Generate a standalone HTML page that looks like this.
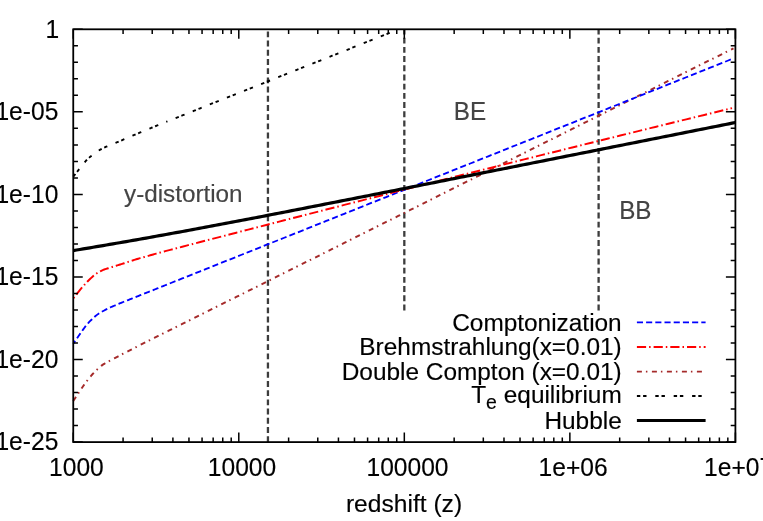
<!DOCTYPE html>
<html><head><meta charset="utf-8"><title>chart</title>
<style>html,body{margin:0;padding:0;background:#fff;overflow:hidden}svg{display:block;will-change:transform}</style></head>
<body>
<svg width="763" height="521" viewBox="0 0 763 521">
<rect width="763" height="521" fill="#fff"/>
<path d="M267.94,442.10 V29.30" stroke="#3c3c3c" stroke-width="2.3" stroke-dasharray="5.9 3.3" fill="none"/>
<path d="M404.32,310.40 V29.30" stroke="#3c3c3c" stroke-width="2.3" stroke-dasharray="5.9 3.3" fill="none"/>
<path d="M598.61,310.40 V29.30" stroke="#3c3c3c" stroke-width="2.3" stroke-dasharray="5.9 3.3" fill="none"/>
<path d="M73.25,401.06 L74.25,399.53 L75.25,398.01 L76.25,396.48 L77.25,394.95 L78.25,393.43 L79.25,391.91 L80.25,390.40 L81.25,388.91 L82.25,387.46 L83.25,386.04 L84.25,384.64 L85.25,383.27 L86.25,381.92 L87.25,380.60 L88.25,379.32 L89.25,378.07 L90.25,376.86 L91.25,375.67 L92.25,374.51 L93.25,373.40 L94.25,372.33 L95.25,371.31 L96.25,370.34 L97.25,369.40 L98.25,368.47 L99.25,367.56 L100.25,366.68 L101.25,365.85 L102.25,365.10 L103.25,364.42 L104.25,363.80 L105.25,363.22 L106.25,362.66 L107.25,362.11 L108.25,361.56 L109.25,361.01 L110.25,360.47 L111.25,359.93 L112.25,359.39 L113.25,358.87 L114.25,358.34 L115.25,357.83 L116.25,357.31 L117.25,356.79 L118.25,356.28 L119.25,355.76 L120.25,355.25 L121.25,354.73 L122.25,354.22 L123.25,353.70 L124.25,353.19 L125.25,352.67 L126.25,352.16 L127.25,351.65 L128.25,351.13 L129.25,350.62 L130.25,350.11 L131.25,349.59 L132.25,349.08 L133.25,348.56 L134.25,348.05 L135.25,347.54 L136.25,347.03 L137.25,346.51 L138.25,346.00 L139.25,345.49 L140.25,344.98 L141.25,344.48 L142.25,343.98 L143.25,343.48 L144.25,342.98 L145.25,342.48 L146.25,341.98 L147.25,341.48 L148.25,340.98 L149.25,340.48 L150.25,339.98 L151.25,339.48 L152.25,338.98 L153.25,338.48 L154.25,337.98 L155.25,337.48 L156.25,336.98 L157.25,336.48 L158.25,335.98 L159.25,335.48 L160.25,334.98 L161.25,334.48 L162.25,333.98 L163.25,333.48 L164.25,332.98 L165.25,332.48 L166.25,331.98 L167.25,331.48 L168.25,330.98 L169.25,330.48 L170.25,329.98 L176.25,326.98 L182.25,323.98 L188.25,320.98 L194.25,317.98 L200.25,314.98 L206.25,311.98 L212.25,308.98 L218.25,305.98 L224.25,302.98 L230.25,299.98 L236.25,296.98 L242.25,293.98 L248.25,290.98 L254.25,287.98 L260.25,284.98 L266.25,281.98 L272.25,278.98 L278.25,275.98 L284.25,272.98 L290.25,269.98 L296.25,266.98 L302.25,263.98 L308.25,260.98 L314.25,257.98 L320.25,254.97 L326.25,251.97 L332.25,248.97 L338.25,245.97 L344.25,242.97 L350.25,239.97 L356.25,236.97 L362.25,233.97 L368.25,230.97 L374.25,227.97 L380.25,224.97 L386.25,221.97 L392.25,218.97 L398.25,215.97 L404.25,212.97 L410.25,209.97 L416.25,206.97 L422.25,203.97 L428.25,200.97 L434.25,197.97 L440.25,194.97 L446.25,191.97 L452.25,188.97 L458.25,185.97 L464.25,182.97 L470.25,179.97 L476.25,176.97 L482.25,173.97 L488.25,170.97 L494.25,167.97 L500.25,164.97 L506.25,161.97 L512.25,158.97 L518.25,155.97 L524.25,152.97 L530.25,149.97 L536.25,146.97 L542.25,143.97 L548.25,140.97 L554.25,137.97 L560.25,134.97 L566.25,131.97 L572.25,128.97 L578.25,125.97 L584.25,122.97 L590.25,119.97 L596.25,116.97 L602.25,113.97 L608.25,110.97 L614.25,107.97 L620.25,104.97 L626.25,101.97 L632.25,98.97 L638.25,95.97 L644.25,92.97 L650.25,89.97 L656.25,86.97 L662.25,83.97 L668.25,80.97 L674.25,77.97 L680.25,74.97 L686.25,71.97 L692.25,68.97 L698.25,65.97 L704.25,62.97 L710.25,59.97 L716.25,56.97 L722.25,53.97 L728.25,50.97 L733.50,48.35" stroke="#a52a2a" stroke-width="1.95" stroke-dasharray="5 4 1.5 4.5" fill="none"/>
<path d="M73.25,343.67 L74.25,342.23 L75.25,340.79 L76.25,339.35 L77.25,337.91 L78.25,336.47 L79.25,335.03 L80.25,333.60 L81.25,332.18 L82.25,330.77 L83.25,329.37 L84.25,328.00 L85.25,326.66 L86.25,325.37 L87.25,324.16 L88.25,323.03 L89.25,321.97 L90.25,320.96 L91.25,319.98 L92.25,319.03 L93.25,318.09 L94.25,317.16 L95.25,316.27 L96.25,315.41 L97.25,314.62 L98.25,313.90 L99.25,313.25 L100.25,312.65 L101.25,312.09 L102.25,311.55 L103.25,311.00 L104.25,310.46 L105.25,309.92 L106.25,309.39 L107.25,308.88 L108.25,308.38 L109.25,307.91 L110.25,307.46 L111.25,307.02 L112.25,306.59 L113.25,306.16 L114.25,305.73 L115.25,305.31 L116.25,304.88 L117.25,304.46 L118.25,304.04 L119.25,303.63 L120.25,303.22 L121.25,302.81 L122.25,302.41 L123.25,302.01 L124.25,301.61 L125.25,301.21 L126.25,300.82 L127.25,300.42 L128.25,300.02 L129.25,299.62 L130.25,299.22 L131.25,298.82 L132.25,298.42 L133.25,298.02 L134.25,297.62 L135.25,297.22 L136.25,296.82 L137.25,296.42 L138.25,296.02 L139.25,295.63 L140.25,295.23 L141.25,294.83 L142.25,294.43 L143.25,294.03 L144.25,293.63 L145.25,293.23 L146.25,292.83 L147.25,292.43 L148.25,292.03 L149.25,291.63 L150.25,291.23 L151.25,290.84 L152.25,290.44 L153.25,290.04 L154.25,289.64 L155.25,289.24 L156.25,288.84 L157.25,288.44 L158.25,288.04 L159.25,287.64 L160.25,287.24 L161.25,286.84 L162.25,286.44 L163.25,286.04 L164.25,285.65 L165.25,285.25 L166.25,284.85 L167.25,284.45 L168.25,284.05 L169.25,283.65 L170.25,283.25 L176.25,280.86 L182.25,278.46 L188.25,276.06 L194.25,273.67 L200.25,271.27 L206.25,268.88 L212.25,266.48 L218.25,264.09 L224.25,261.69 L230.25,259.30 L236.25,256.90 L242.25,254.51 L248.25,252.11 L254.25,249.72 L260.25,247.32 L266.25,244.93 L272.25,242.53 L278.25,240.14 L284.25,237.74 L290.25,235.35 L296.25,232.95 L302.25,230.56 L308.25,228.16 L314.25,225.77 L320.25,223.37 L326.25,220.98 L332.25,218.58 L338.25,216.19 L344.25,213.79 L350.25,211.39 L356.25,209.00 L362.25,206.60 L368.25,204.21 L374.25,201.81 L380.25,199.42 L386.25,197.02 L392.25,194.63 L398.25,192.23 L404.25,189.84 L410.25,187.44 L416.25,185.05 L422.25,182.65 L428.25,180.26 L434.25,177.86 L440.25,175.47 L446.25,173.07 L452.25,170.68 L458.25,168.28 L464.25,165.89 L470.25,163.49 L476.25,161.10 L482.25,158.70 L488.25,156.31 L494.25,153.91 L500.25,151.51 L506.25,149.12 L512.25,146.72 L518.25,144.33 L524.25,141.93 L530.25,139.54 L536.25,137.14 L542.25,134.75 L548.25,132.35 L554.25,129.96 L560.25,127.56 L566.25,125.17 L572.25,122.77 L578.25,120.38 L584.25,117.98 L590.25,115.59 L596.25,113.19 L602.25,110.80 L608.25,108.40 L614.25,106.01 L620.25,103.61 L626.25,101.22 L632.25,98.82 L638.25,96.42 L644.25,94.03 L650.25,91.63 L656.25,89.24 L662.25,86.84 L668.25,84.45 L674.25,82.05 L680.25,79.66 L686.25,77.26 L692.25,74.87 L698.25,72.47 L704.25,70.08 L710.25,67.68 L716.25,65.29 L722.25,62.89 L728.25,60.50 L732.00,59.00" stroke="#0000ff" stroke-width="1.85" stroke-dasharray="6.1 3.1" stroke-dashoffset="2.7" fill="none"/>
<path d="M73.25,298.38 L74.25,297.13 L75.25,295.88 L76.25,294.63 L77.25,293.38 L78.25,292.13 L79.25,290.88 L80.25,289.65 L81.25,288.45 L82.25,287.27 L83.25,286.12 L84.25,284.99 L85.25,283.89 L86.25,282.81 L87.25,281.77 L88.25,280.75 L89.25,279.77 L90.25,278.80 L91.25,277.85 L92.25,276.93 L93.25,276.05 L94.25,275.22 L95.25,274.44 L96.25,273.72 L97.25,273.04 L98.25,272.41 L99.25,271.83 L100.25,271.29 L101.25,270.79 L102.25,270.33 L103.25,269.91 L104.25,269.53 L105.25,269.19 L106.25,268.86 L107.25,268.54 L108.25,268.22 L109.25,267.90 L110.25,267.59 L111.25,267.27 L112.25,266.96 L113.25,266.65 L114.25,266.34 L115.25,266.03 L116.25,265.72 L117.25,265.42 L118.25,265.11 L119.25,264.80 L120.25,264.49 L121.25,264.17 L122.25,263.85 L123.25,263.52 L124.25,263.20 L125.25,262.87 L126.25,262.54 L127.25,262.21 L128.25,261.88 L129.25,261.55 L130.25,261.22 L131.25,260.89 L132.25,260.56 L133.25,260.24 L134.25,259.91 L135.25,259.60 L136.25,259.29 L137.25,258.99 L138.25,258.70 L139.25,258.41 L140.25,258.13 L141.25,257.85 L142.25,257.56 L143.25,257.28 L144.25,257.00 L145.25,256.71 L146.25,256.43 L147.25,256.15 L148.25,255.87 L149.25,255.58 L150.25,255.30 L151.25,255.02 L152.25,254.74 L153.25,254.45 L154.25,254.17 L155.25,253.89 L156.25,253.61 L157.25,253.32 L158.25,253.05 L159.25,252.77 L160.25,252.50 L161.25,252.23 L162.25,251.96 L163.25,251.70 L164.25,251.44 L165.25,251.18 L166.25,250.91 L167.25,250.65 L168.25,250.39 L169.25,250.13 L170.25,249.87 L176.25,248.30 L182.25,246.74 L188.25,245.18 L194.25,243.61 L200.25,242.05 L206.25,240.49 L212.25,238.93 L218.25,237.37 L224.25,235.82 L230.25,234.26 L236.25,232.71 L242.25,231.15 L248.25,229.60 L254.25,228.05 L260.25,226.50 L266.25,224.95 L272.25,223.40 L278.25,221.86 L284.25,220.31 L290.25,218.77 L296.25,217.22 L302.25,215.68 L308.25,214.14 L314.25,212.60 L320.25,211.06 L326.25,209.52 L332.25,207.99 L338.25,206.45 L344.25,204.92 L350.25,203.38 L356.25,201.85 L362.25,200.32 L368.25,198.79 L374.25,197.26 L380.25,195.74 L386.25,194.21 L392.25,192.68 L398.25,191.16 L404.25,189.64 L410.25,188.12 L416.25,186.59 L422.25,185.08 L428.25,183.56 L434.25,182.04 L440.25,180.52 L446.25,179.01 L452.25,177.49 L458.25,175.98 L464.25,174.47 L470.25,172.96 L476.25,171.45 L482.25,169.94 L488.25,168.43 L494.25,166.93 L500.25,165.42 L506.25,163.92 L512.25,162.42 L518.25,160.91 L524.25,159.41 L530.25,157.92 L536.25,156.42 L542.25,154.92 L548.25,153.42 L554.25,151.93 L560.25,150.44 L566.25,148.94 L572.25,147.45 L578.25,145.96 L584.25,144.47 L590.25,142.98 L596.25,141.50 L602.25,140.01 L608.25,138.53 L614.25,137.04 L620.25,135.56 L626.25,134.08 L632.25,132.60 L638.25,131.12 L644.25,129.64 L650.25,128.17 L656.25,126.69 L662.25,125.22 L668.25,123.74 L674.25,122.27 L680.25,120.80 L686.25,119.33 L692.25,117.86 L698.25,116.39 L704.25,114.93 L710.25,113.46 L716.25,112.00 L722.25,110.53 L728.25,109.07 L732.00,108.16" stroke="#ff0000" stroke-width="1.95" stroke-dasharray="9.2 3 1.5 3" stroke-dashoffset="-4.9" fill="none"/>
<path d="M73.25,176.69 L74.25,175.43 L75.25,174.16 L76.25,172.89 L77.25,171.63 L78.25,170.36 L79.25,169.09 L80.25,167.83 L81.25,166.56 L82.25,165.30 L83.25,164.03 L84.25,162.80 L85.25,161.60 L86.25,160.47 L87.25,159.43 L88.25,158.48 L89.25,157.60 L90.25,156.77 L91.25,155.98 L92.25,155.21 L93.25,154.46 L94.25,153.73 L95.25,153.01 L96.25,152.29 L97.25,151.59 L98.25,150.90 L99.25,150.23 L100.25,149.62 L101.25,149.05 L102.25,148.54 L103.25,148.07 L104.25,147.62 L105.25,147.18 L106.25,146.74 L107.25,146.31 L108.25,145.89 L109.25,145.48 L110.25,145.06 L111.25,144.65 L112.25,144.25 L113.25,143.84 L114.25,143.43 L115.25,143.02 L116.25,142.61 L117.25,142.20 L118.25,141.78 L119.25,141.36 L120.25,140.94 L121.25,140.51 L122.25,140.08 L123.25,139.66 L124.25,139.23 L125.25,138.80 L126.25,138.37 L127.25,137.95 L128.25,137.52 L129.25,137.09 L130.25,136.67 L131.25,136.24 L132.25,135.81 L133.25,135.39 L134.25,134.96 L135.25,134.54 L136.25,134.12 L137.25,133.71 L138.25,133.29 L139.25,132.88 L140.25,132.46 L141.25,132.05 L142.25,131.64 L143.25,131.22 L144.25,130.81 L145.25,130.39 L146.25,129.98 L147.25,129.57 L148.25,129.15 L149.25,128.74 L150.25,128.32 L151.25,127.91 L152.25,127.50 L153.25,127.08 L154.25,126.67 L155.25,126.25 L156.25,125.84 L157.25,125.43 L158.25,125.02 L159.25,124.61 L160.25,124.20 L161.25,123.79 L162.25,123.39 L163.25,122.99 L164.25,122.60 L165.25,122.20" stroke="#000" stroke-width="1.9" stroke-dasharray="3.4 2.8 3.4 8.8" fill="none"/>
<path d="M166.25,121.80 L167.25,121.40 L168.25,121.00 L169.25,120.61 L170.25,120.21 L176.25,117.82 L182.25,115.43 L188.25,113.04 L194.25,110.66 L200.25,108.27 L206.25,105.88 L212.25,103.49 L218.25,101.10 L224.25,98.72 L230.25,96.33 L236.25,93.94 L242.25,91.55 L248.25,89.16 L254.25,86.78 L260.25,84.39 L266.25,82.00 L272.25,79.61 L278.25,77.22 L284.25,74.84 L290.25,72.45 L296.25,70.06 L302.25,67.67 L308.25,65.28 L314.25,62.90 L320.25,60.51 L326.25,58.12 L332.25,55.73 L338.25,53.34 L344.25,50.96 L350.25,48.57 L356.25,46.18 L362.25,43.79 L368.25,41.40 L374.25,39.02 L380.25,36.63 L386.25,34.24 L392.25,31.85" stroke="#000" stroke-width="1.9" stroke-dasharray="3.4 2.8 3.4 8.8" stroke-dashoffset="8.31" fill="none"/>
<path d="M73.25,250.56 L76.56,250.02 L79.87,249.46 L83.18,248.91 L86.49,248.36 L89.80,247.80 L93.11,247.24 L96.43,246.68 L99.74,246.12 L103.05,245.56 L106.36,244.99 L109.67,244.42 L112.98,243.85 L116.29,243.28 L119.60,242.71 L122.91,242.13 L126.22,241.56 L129.53,240.98 L132.84,240.40 L136.15,239.82 L139.46,239.23 L142.78,238.64 L146.09,238.06 L149.40,237.47 L152.71,236.87 L156.02,236.28 L159.33,235.68 L162.64,235.09 L165.95,234.49 L169.26,233.89 L172.57,233.28 L175.88,232.68 L179.19,232.07 L182.50,231.46 L185.82,230.85 L189.13,230.24 L192.44,229.63 L195.75,229.02 L199.06,228.40 L202.37,227.78 L205.68,227.16 L208.99,226.54 L212.30,225.92 L215.61,225.30 L218.92,224.67 L222.23,224.05 L225.54,223.42 L228.86,222.79 L232.17,222.17 L235.48,221.53 L238.79,220.90 L242.10,220.27 L245.41,219.64 L248.72,219.00 L252.03,218.37 L255.34,217.73 L258.65,217.09 L261.96,216.45 L265.27,215.82 L268.58,215.17 L271.89,214.53 L275.21,213.89 L278.52,213.25 L281.83,212.61 L285.14,211.96 L288.45,211.32 L291.76,210.67 L295.07,210.03 L298.38,209.38 L301.69,208.73 L305.00,208.09 L308.31,207.44 L311.62,206.79 L314.93,206.14 L318.25,205.49 L321.56,204.84 L324.87,204.19 L328.18,203.54 L331.49,202.89 L334.80,202.24 L338.11,201.58 L341.42,200.93 L344.73,200.28 L348.04,199.63 L351.35,198.97 L354.66,198.32 L357.97,197.66 L361.29,197.01 L364.60,196.36 L367.91,195.70 L371.22,195.05 L374.53,194.39 L377.84,193.73 L381.15,193.08 L384.46,192.42 L387.77,191.77 L391.08,191.11 L394.39,190.45 L397.70,189.80 L401.01,189.14 L404.32,188.48 L407.64,187.83 L410.95,187.17 L414.26,186.51 L417.57,185.85 L420.88,185.20 L424.19,184.54 L427.50,183.88 L430.81,183.22 L434.12,182.56 L437.43,181.91 L440.74,181.25 L444.05,180.59 L447.36,179.93 L450.68,179.27 L453.99,178.61 L457.30,177.95 L460.61,177.29 L463.92,176.64 L467.23,175.98 L470.54,175.32 L473.85,174.66 L477.16,174.00 L480.47,173.34 L483.78,172.68 L487.09,172.02 L490.40,171.36 L493.72,170.70 L497.03,170.04 L500.34,169.38 L503.65,168.72 L506.96,168.06 L510.27,167.40 L513.58,166.74 L516.89,166.09 L520.20,165.43 L523.51,164.77 L526.82,164.11 L530.13,163.45 L533.44,162.79 L536.75,162.13 L540.07,161.47 L543.38,160.81 L546.69,160.15 L550.00,159.49 L553.31,158.83 L556.62,158.17 L559.93,157.51 L563.24,156.85 L566.55,156.19 L569.86,155.53 L573.17,154.87 L576.48,154.21 L579.79,153.55 L583.11,152.88 L586.42,152.22 L589.73,151.56 L593.04,150.90 L596.35,150.24 L599.66,149.58 L602.97,148.92 L606.28,148.26 L609.59,147.60 L612.90,146.94 L616.21,146.28 L619.52,145.62 L622.83,144.96 L626.15,144.30 L629.46,143.64 L632.77,142.98 L636.08,142.32 L639.39,141.66 L642.70,141.00 L646.01,140.34 L649.32,139.68 L652.63,139.02 L655.94,138.36 L659.25,137.70 L662.56,137.04 L665.87,136.38 L669.18,135.72 L672.50,135.06 L675.81,134.40 L679.12,133.74 L682.43,133.08 L685.74,132.41 L689.05,131.75 L692.36,131.09 L695.67,130.43 L698.98,129.77 L702.29,129.11 L705.60,128.45 L708.91,127.79 L712.22,127.13 L715.54,126.47 L718.85,125.81 L722.16,125.15 L725.47,124.49 L728.78,123.83 L732.09,123.17 L735.40,122.51" stroke="#000" stroke-width="3.2" fill="none"/>
<path d="M73.25,442.10 v-9.50 M73.25,29.30 v9.50 M123.08,442.10 v-4.70 M123.08,29.30 v4.70 M152.23,442.10 v-4.70 M152.23,29.30 v4.70 M172.91,442.10 v-4.70 M172.91,29.30 v4.70 M188.96,442.10 v-4.70 M188.96,29.30 v4.70 M202.06,442.10 v-4.70 M202.06,29.30 v4.70 M213.15,442.10 v-4.70 M213.15,29.30 v4.70 M222.75,442.10 v-4.70 M222.75,29.30 v4.70 M231.21,442.10 v-4.70 M231.21,29.30 v4.70 M238.79,442.10 v-9.50 M238.79,29.30 v9.50 M288.62,442.10 v-4.70 M288.62,29.30 v4.70 M317.77,442.10 v-4.70 M317.77,29.30 v4.70 M338.45,442.10 v-4.70 M338.45,29.30 v4.70 M354.49,442.10 v-4.70 M354.49,29.30 v4.70 M367.60,442.10 v-4.70 M367.60,29.30 v4.70 M378.68,442.10 v-4.70 M378.68,29.30 v4.70 M388.28,442.10 v-4.70 M388.28,29.30 v4.70 M396.75,442.10 v-4.70 M396.75,29.30 v4.70 M404.32,442.10 v-9.50 M404.32,29.30 v9.50 M454.16,442.10 v-4.70 M454.16,29.30 v4.70 M483.31,442.10 v-4.70 M483.31,29.30 v4.70 M503.99,442.10 v-4.70 M503.99,29.30 v4.70 M520.03,442.10 v-4.70 M520.03,29.30 v4.70 M533.14,442.10 v-4.70 M533.14,29.30 v4.70 M544.22,442.10 v-4.70 M544.22,29.30 v4.70 M553.82,442.10 v-4.70 M553.82,29.30 v4.70 M562.29,442.10 v-4.70 M562.29,29.30 v4.70 M569.86,442.10 v-9.50 M569.86,29.30 v9.50 M619.69,442.10 v-4.70 M619.69,29.30 v4.70 M648.84,442.10 v-4.70 M648.84,29.30 v4.70 M669.53,442.10 v-4.70 M669.53,29.30 v4.70 M685.57,442.10 v-4.70 M685.57,29.30 v4.70 M698.68,442.10 v-4.70 M698.68,29.30 v4.70 M709.76,442.10 v-4.70 M709.76,29.30 v4.70 M719.36,442.10 v-4.70 M719.36,29.30 v4.70 M727.83,442.10 v-4.70 M727.83,29.30 v4.70 M735.40,442.10 v-9.50 M735.40,29.30 v9.50 M73.25,29.30 h9.50 M735.40,29.30 h-9.50 M73.25,45.81 h4.70 M735.40,45.81 h-4.70 M73.25,62.32 h4.70 M735.40,62.32 h-4.70 M73.25,78.84 h4.70 M735.40,78.84 h-4.70 M73.25,95.35 h4.70 M735.40,95.35 h-4.70 M73.25,111.86 h9.50 M735.40,111.86 h-9.50 M73.25,128.37 h4.70 M735.40,128.37 h-4.70 M73.25,144.88 h4.70 M735.40,144.88 h-4.70 M73.25,161.40 h4.70 M735.40,161.40 h-4.70 M73.25,177.91 h4.70 M735.40,177.91 h-4.70 M73.25,194.42 h9.50 M735.40,194.42 h-9.50 M73.25,210.93 h4.70 M735.40,210.93 h-4.70 M73.25,227.44 h4.70 M735.40,227.44 h-4.70 M73.25,243.96 h4.70 M735.40,243.96 h-4.70 M73.25,260.47 h4.70 M735.40,260.47 h-4.70 M73.25,276.98 h9.50 M735.40,276.98 h-9.50 M73.25,293.49 h4.70 M735.40,293.49 h-4.70 M73.25,310.00 h4.70 M735.40,310.00 h-4.70 M73.25,326.52 h4.70 M735.40,326.52 h-4.70 M73.25,343.03 h4.70 M735.40,343.03 h-4.70 M73.25,359.54 h9.50 M735.40,359.54 h-9.50 M73.25,376.05 h4.70 M735.40,376.05 h-4.70 M73.25,392.56 h4.70 M735.40,392.56 h-4.70 M73.25,409.08 h4.70 M735.40,409.08 h-4.70 M73.25,425.59 h4.70 M735.40,425.59 h-4.70 M73.25,442.10 h9.50 M735.40,442.10 h-9.50" stroke="#000" stroke-width="1.5" fill="none"/>
<rect x="73.25" y="29.30" width="662.15" height="412.80" stroke="#000" stroke-width="1.8" fill="none"/>
<path d="M636.9,322.3 H705.6" stroke="#0000ff" stroke-width="1.85" stroke-dasharray="6.1 3.1" fill="none"/>
<path d="M636.9,347.0 H705.6" stroke="#ff0000" stroke-width="2.05" stroke-dasharray="9.2 3 1.5 3" fill="none"/>
<path d="M636.9,371.6 H705.6" stroke="#a52a2a" stroke-width="1.8" stroke-dasharray="5 4 1.5 4.5" fill="none"/>
<path d="M636.9,396.0 H705.6" stroke="#000" stroke-width="1.9" stroke-dasharray="3.4 2.8 3.4 8.8" fill="none"/>
<path d="M636.9,420.5 H705.6" stroke="#000" stroke-width="3.2" fill="none"/>
<g font-family="Liberation Sans, sans-serif" font-size="24.6" fill="#000" stroke="#000" stroke-width="0.15">
<text transform="translate(59.30,37.60) scale(1,1.04)" text-anchor="end">1</text>
<text transform="translate(58.30,120.16) scale(1,1.04)" text-anchor="end">1e-05</text>
<text transform="translate(58.30,202.72) scale(1,1.04)" text-anchor="end">1e-10</text>
<text transform="translate(58.30,285.28) scale(1,1.04)" text-anchor="end">1e-15</text>
<text transform="translate(58.30,367.84) scale(1,1.04)" text-anchor="end">1e-20</text>
<text transform="translate(58.30,450.40) scale(1,1.04)" text-anchor="end">1e-25</text>
<text transform="translate(76.45,475.50) scale(1,1.04)" text-anchor="middle">1000</text>
<text transform="translate(241.99,475.50) scale(1,1.04)" text-anchor="middle">10000</text>
<text transform="translate(407.52,475.50) scale(1,1.04)" text-anchor="middle">100000</text>
<text transform="translate(573.06,475.50) scale(1,1.04)" text-anchor="middle">1e+06</text>
<text transform="translate(738.60,475.50) scale(1,1.04)" text-anchor="middle">1e+07</text>
<text transform="translate(404.00,511.60) scale(1,1)" text-anchor="middle">redshift (z)</text>
</g>
<g font-family="Liberation Sans, sans-serif" font-size="24.4" fill="#000" stroke="#000" stroke-width="0.15">
<text transform="translate(621.70,331.00) scale(1,1)" text-anchor="end">Comptonization</text>
<text transform="translate(621.70,355.10) scale(1,1)" text-anchor="end">Brehmstrahlung(x=0.01)</text>
<text transform="translate(621.70,379.70) scale(1,1)" text-anchor="end">Double Compton (x=0.01)</text>
<text transform="translate(621.70,402.90) scale(1,1)" text-anchor="end">T<tspan dy="6.1" font-size="19.5">e</tspan><tspan dy="-6.1"> equilibrium</tspan></text>
<text transform="translate(621.70,428.50) scale(1,1)" text-anchor="end">Hubble</text>
</g>
<g font-family="Liberation Sans, sans-serif" font-size="24.25" fill="#444" stroke="#444" stroke-width="0.15">
<text transform="translate(124.00,202.20) scale(1,1)" text-anchor="start">y-distortion</text>
<text transform="translate(453.80,119.90) scale(1,1.04)" text-anchor="start">BE</text>
<text transform="translate(619.20,219.00) scale(1,1.04)" text-anchor="start">BB</text>
</g>
</svg>
</body></html>
